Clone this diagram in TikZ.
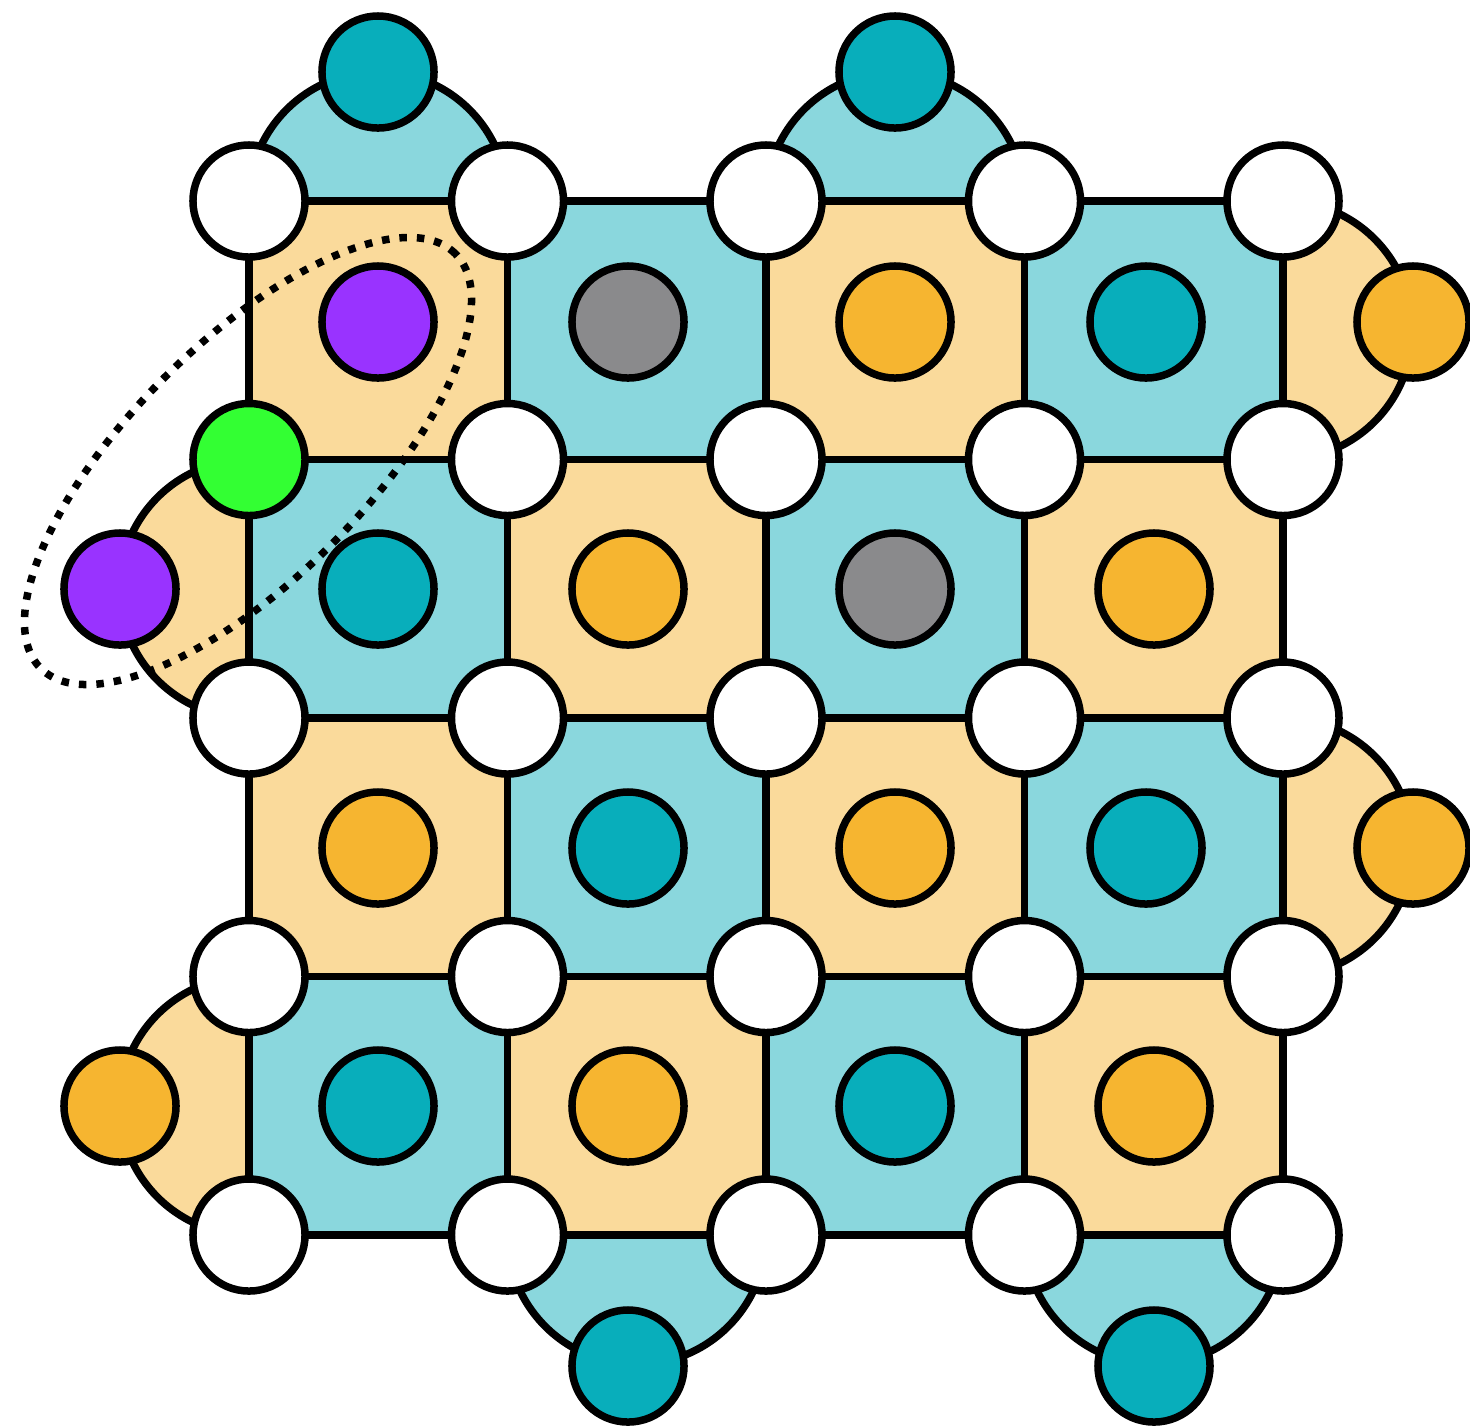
\documentclass[tikz,border=0pt]{standalone}
\definecolor{lorange}{HTML}{FADA9B}
\definecolor{lcyan}{HTML}{8AD7DD}
\definecolor{dcyan}{HTML}{08AEBB}
\definecolor{dorange}{HTML}{F6B530}
\definecolor{qgray}{HTML}{8A8A8C}
\definecolor{qpurple}{HTML}{9933FF}
\definecolor{qgreen}{HTML}{33FF33}
\begin{document}
\begin{tikzpicture}[x=0.01cm,y=-0.01cm,line width=0.075cm,
  qubit/.style={circle,draw=black,line width=0.075cm,minimum size=1.12cm,inner sep=0pt},
  dq/.style={qubit,fill=white},
  oq/.style={qubit,fill=dorange},
  cq/.style={qubit,fill=dcyan},
  gq/.style={qubit,fill=qgray},
  pq/.style={qubit,fill=qpurple},
  grq/.style={qubit,fill=qgreen},
  oplaq/.style={fill=lorange,draw=black},
  cplaq/.style={fill=lcyan,draw=black},
  loop/.style={draw=black,line width=0.075cm,dash pattern=on 0.075cm off 0.1cm}]
\useasboundingbox (0,0) rectangle (1470,1426);
% boundary weight-2 discs
\path[cplaq] (378,201) circle[radius=1.2925cm];
\path[cplaq] (895.25,201) circle[radius=1.2925cm];
\path[oplaq] (1283,330.25) circle[radius=1.2925cm];
\path[oplaq] (1283,847.25) circle[radius=1.2925cm];
\path[oplaq] (249,588.75) circle[radius=1.2925cm];
\path[oplaq] (249,1105.75) circle[radius=1.2925cm];
\path[cplaq] (636.75,1235) circle[radius=1.2925cm];
\path[cplaq] (1153.75,1235) circle[radius=1.2925cm];
% plaquettes
\foreach \i/\xa/\xb in {0/249/507.5,1/507.5/766,2/766/1024.5,3/1024.5/1283}{
  \foreach \j/\ya/\yb in {0/201/459.5,1/459.5/718,2/718/976.5,3/976.5/1235}{
    \pgfmathtruncatemacro{\parity}{mod(\i+\j,2)}
    \ifnum\parity=0
      \path[oplaq] (\xa,\ya) rectangle (\xb,\yb);
    \else
      \path[cplaq] (\xa,\ya) rectangle (\xb,\yb);
    \fi
  }
}
% data qubits
\foreach \i/\x in {0/249,1/507.5,2/766,3/1024.5,4/1283}{
  \foreach \j/\y in {0/201,1/459.5,2/718,3/976.5,4/1235}{
    \ifnum\i=0 \ifnum\j=1 \else \node[dq] (d\i\j) at (\x,\y) {}; \fi
    \else \node[dq] (d\i\j) at (\x,\y) {}; \fi
  }
}
\node[grq] (d01) at (249,459.5) {};
% bulk ancillas
\node[pq] (a00) at (378,322) {};
\node[gq] (a10) at (628,322) {};
\node[oq] (a20) at (895,322) {};
\node[cq] (a30) at (1146,322) {};
\node[cq] (a01) at (378,589) {};
\node[oq] (a11) at (628,589) {};
\node[gq] (a21) at (895,589) {};
\node[oq] (a31) at (1154,589) {};
\node[oq] (a02) at (378,848) {};
\node[cq] (a12) at (628,848) {};
\node[oq] (a22) at (895,848) {};
\node[cq] (a32) at (1146,848) {};
\node[cq] (a03) at (378,1106) {};
\node[oq] (a13) at (628,1106) {};
\node[cq] (a23) at (895,1106) {};
\node[oq] (a33) at (1154,1106) {};
% boundary ancillas
\node[cq] (bt0) at (378,72) {};
\node[cq] (bt1) at (895,72) {};
\node[oq] (br0) at (1413,322) {};
\node[oq] (br1) at (1413,848) {};
\node[pq] (bl0) at (120,589) {};
\node[oq] (bl1) at (120,1106) {};
\node[cq] (bb0) at (628,1366) {};
\node[cq] (bb1) at (1154,1366) {};
% dotted loop
\coordinate (lc) at (248,461);
\path[loop,rotate around={45:(lc)}] (lc) ellipse[x radius=2.93cm,y radius=1.18cm];
\end{tikzpicture}
\end{document}
